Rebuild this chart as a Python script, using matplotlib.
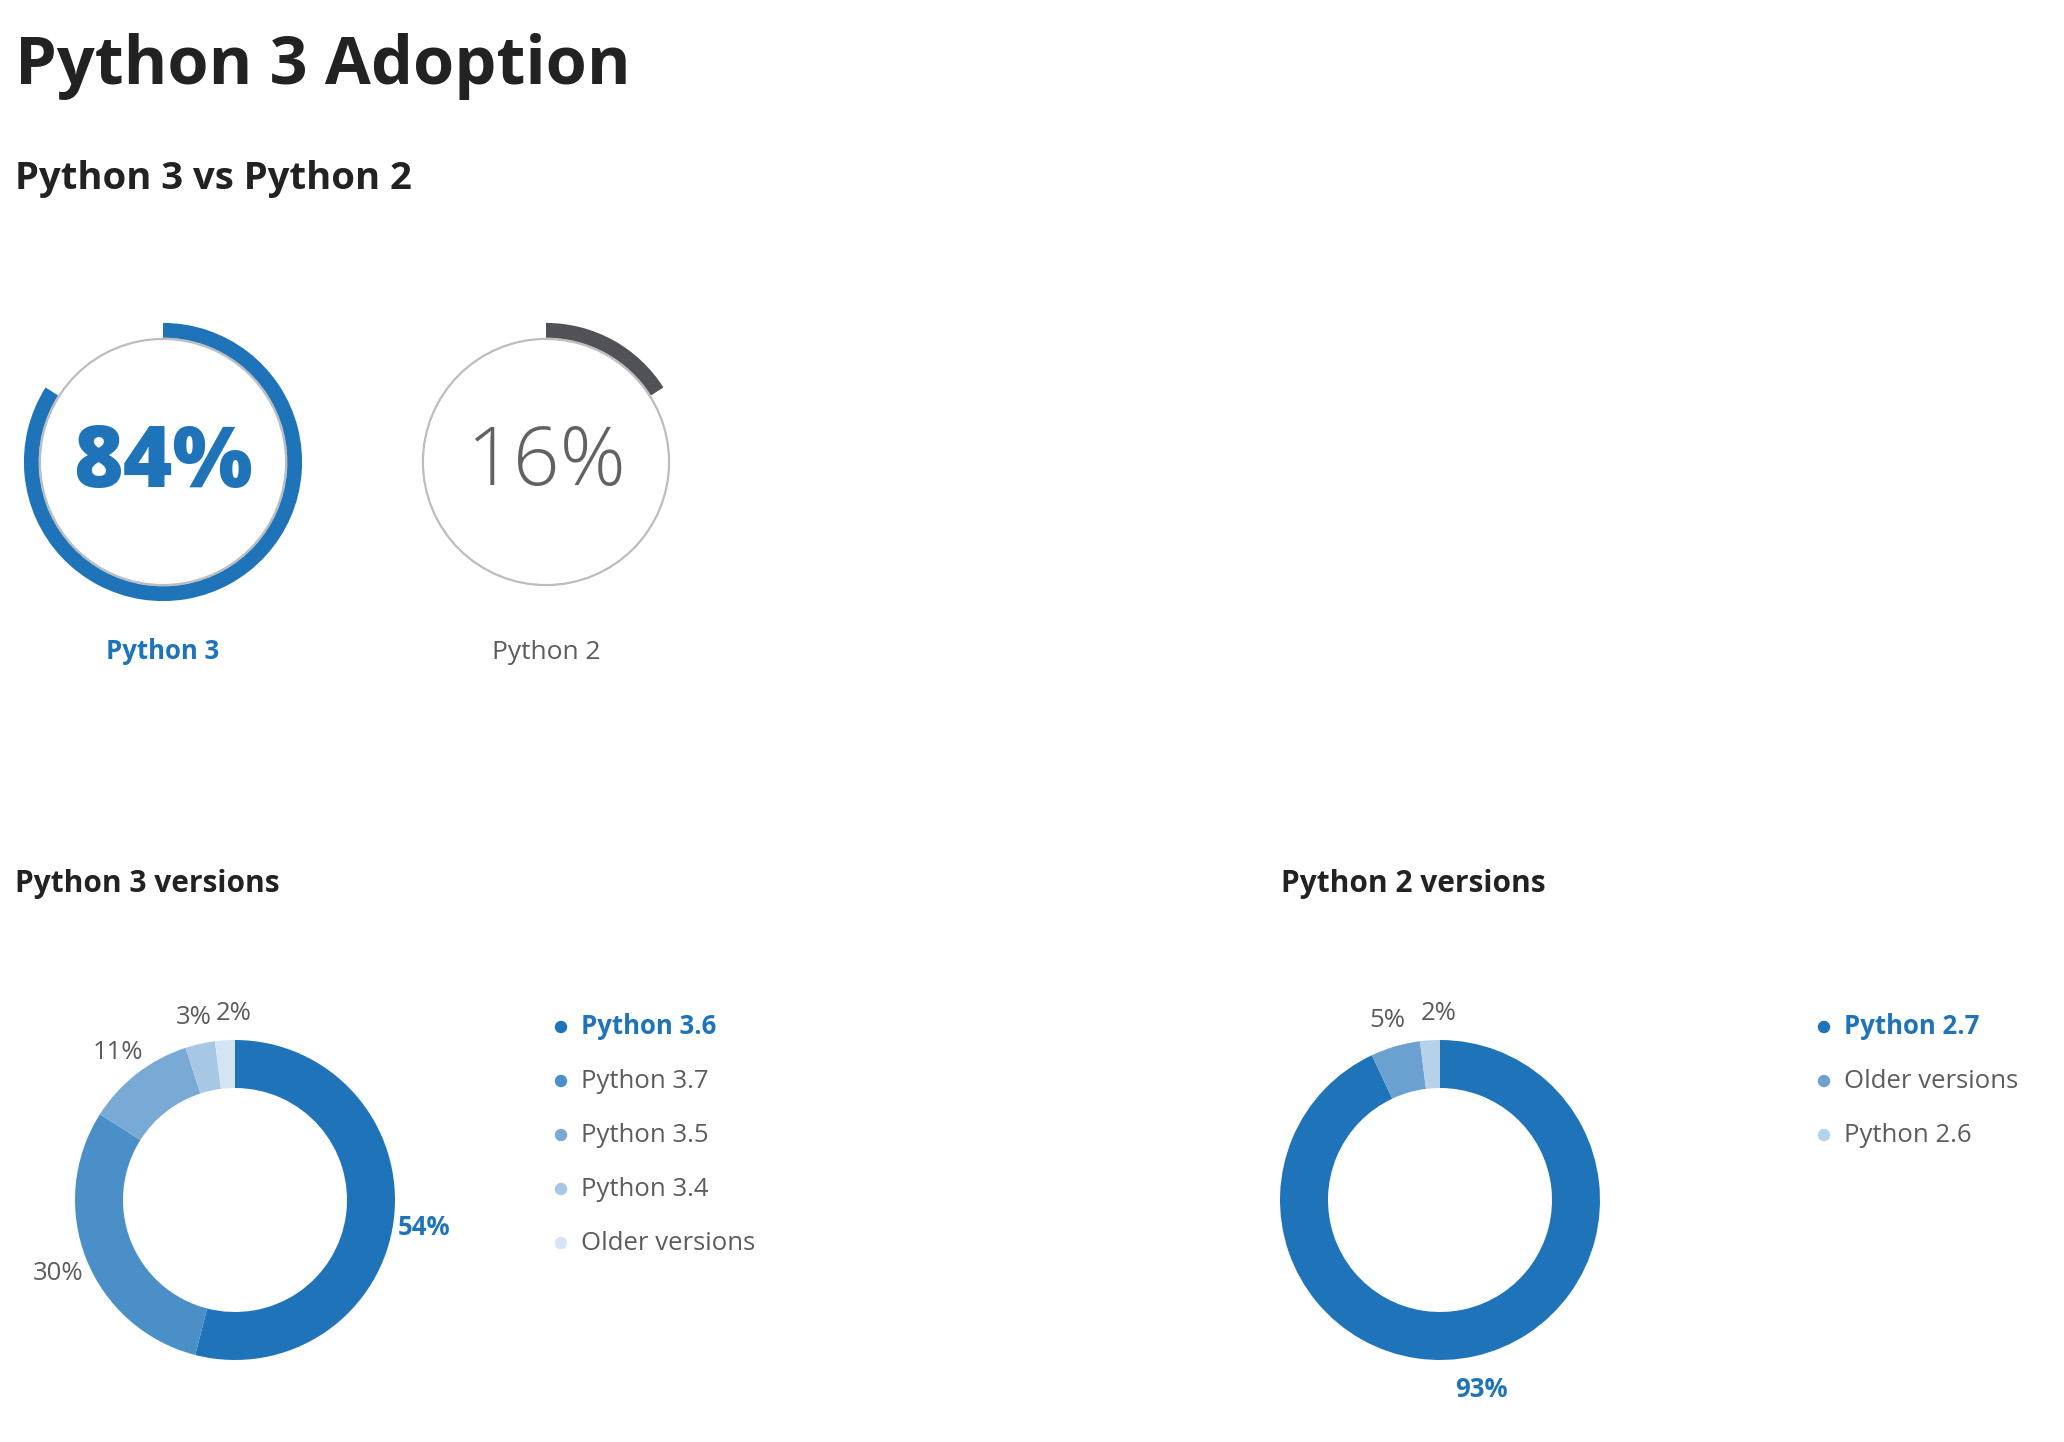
import numpy as np
import matplotlib
matplotlib.use("Agg")
import matplotlib.pyplot as plt
from matplotlib.patches import Circle

plt.rcParams['font.family'] = ['Open Sans', 'DejaVu Sans']

# data
share_labels = ['Python 3', 'Python 2']
share_values = [84, 16]

py3_versions = ['Python 3.6', 'Python 3.7', 'Python 3.5', 'Python 3.4', 'Older versions']
py3_values = [54, 30, 11, 3, 2]

py2_versions = ['Python 2.7', 'Older versions', 'Python 2.6']
py2_values = [93, 5, 2]

BLUE = '#1f74b9'
DARK = '#505257'
GREY_TEXT = '#5c5c5c'
TITLE = '#222222'
py3_colors = ['#1f74b9', '#4a8fc7', '#79aad6', '#a6c8e5', '#d4e4f2']
py2_colors = ['#1f74b9', '#6aa1d1', '#b5d2ea']

W, H = 2064, 1442
fig = plt.figure(figsize=(W / 100, H / 100), dpi=100)
fig.patch.set_facecolor('white')


def px_axes(cx, cy, half):
    # axes centred on pixel (cx, cy) measured from top-left
    return fig.add_axes([(cx - half) / W, 1 - (cy + half) / H, 2 * half / W, 2 * half / H])


def ftext(x, y, s, **kw):
    fig.text(x / W, 1 - y / H, s, **kw)


ftext(15, 84, 'Python 3 Adoption', fontsize=48, fontweight='bold', color=TITLE, va='baseline')
ftext(15, 189, 'Python 3 vs Python 2', fontsize=27.5, fontweight='bold', color=TITLE, va='baseline')

# gauges
gauge_centres = [163, 546]
gauge_colors = [BLUE, DARK]
for i, (lab, val) in enumerate(zip(share_labels, share_values)):
    ax = px_axes(gauge_centres[i], 462, 160)
    ax.set_xlim(-1.3, 1.3)
    ax.set_ylim(-1.3, 1.3)
    ax.set_aspect('equal')
    ax.axis('off')
    ax.add_patch(Circle((0, 0), 1.0, fill=False, edgecolor='#bdbdbd', linewidth=1.6))
    ax.pie([val, 100 - val], radius=1.13, startangle=90, counterclock=False,
           colors=[gauge_colors[i], 'none'], wedgeprops=dict(width=0.12, linewidth=0))
    ax.set_xlim(-1.3, 1.3)
    ax.set_ylim(-1.3, 1.3)
    if i == 0:
        ax.text(0, -0.02, f'{val}%', fontsize=61, fontweight='heavy', color=BLUE, ha='center', va='center')
        ftext(gauge_centres[i], 659, lab, fontsize=18.5, fontweight='bold', color=BLUE, ha='center', va='baseline')
    else:
        ax.text(0, -0.02, f'{val}%', fontsize=59, fontweight='light', color='#626262', ha='center', va='center')
        ftext(gauge_centres[i], 659, lab, fontsize=19, color=GREY_TEXT, ha='center', va='baseline')


def donut(cx, cy, values, colors, title, title_x, names, leg_x):
    ftext(title_x, 892, title, fontsize=21.5, fontweight='bold', color=TITLE, va='baseline')
    ax = px_axes(cx, cy, 200)
    wedges, texts = ax.pie(values, radius=1.0, startangle=90, counterclock=False, colors=colors,
                           labels=[f'{v}%' for v in values], labeldistance=1.19,
                           wedgeprops=dict(width=0.30, linewidth=0))
    ax.set_xlim(-1.25, 1.25)
    ax.set_ylim(-1.25, 1.25)
    ax.set_aspect('equal')
    for j, t in enumerate(texts):
        t.set_ha('center')
        t.set_va('center')
        t.set_fontsize(18.5)
        x, y = t.get_position()
        y -= 0.02
        if abs(x) < 0.15:
            # label right at the top: push it to the right of its neighbour
            t.set_ha('left')
            x -= 0.045
        t.set_position((x, y))
        if j == 0:
            t.set_color(BLUE)
            t.set_fontweight('bold')
        else:
            t.set_color(GREY_TEXT)

    # legend
    n = len(names)
    step = 54
    top = 1027 - step / 2
    lx = fig.add_axes([leg_x / W, 1 - (top + n * step) / H, 400 / W, n * step / H])
    lx.set_xlim(0, 400)
    lx.set_ylim(n - 0.5, -0.5)
    lx.axis('off')
    ys = np.arange(n)
    lx.scatter(np.full(n, 14), ys, s=80, c=colors, linewidths=0)
    for j, name in enumerate(names):
        if j == 0:
            lx.text(34, ys[j], name, fontsize=18.5, fontweight='bold', color=BLUE, va='center')
        else:
            lx.text(34, ys[j], name, fontsize=18.5, color=GREY_TEXT, va='center')


donut(235, 1200, py3_values, py3_colors, 'Python 3 versions', 15, py3_versions, 547)
donut(1440, 1200, py2_values, py2_colors, 'Python 2 versions', 1281, py2_versions, 1810)

fig.savefig('out.png', dpi=100, facecolor='white')
